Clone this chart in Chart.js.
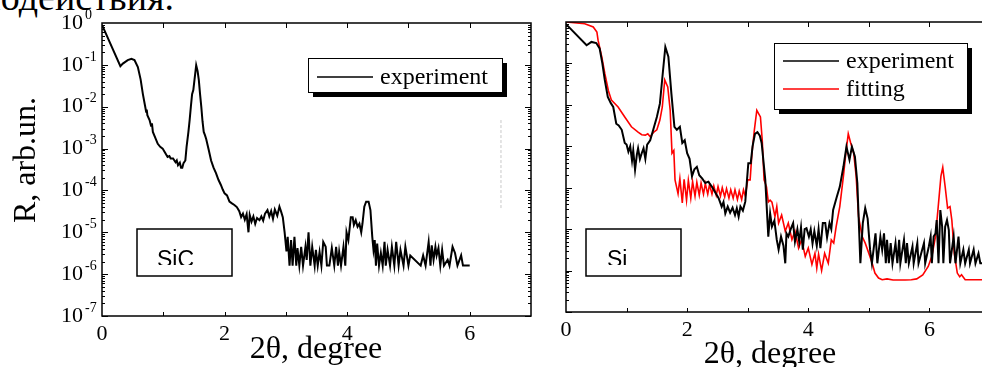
<!DOCTYPE html>
<html>
<head>
<meta charset="utf-8">
<script src="https://cdn.jsdelivr.net/npm/chart.js@4.4.1/dist/chart.umd.min.js"></script>
<style>
  html, body { margin: 0; padding: 0; background: #fff; overflow: hidden; width: 982px; height: 367px; }
  #wrap { position: relative; width: 982px; height: 367px; overflow: hidden; }
  #caption { position: absolute; right: 808px; top: -21px; font: 38px/36px "Liberation Serif", serif; white-space: nowrap; color: #000; }
  #left { position: absolute; left: 0; top: 0; }
  #right { position: absolute; left: 540px; top: 0; }
</style>
</head>
<body>
<div id="wrap">
  <div id="caption">взаимодействия.</div>
  <canvas id="left" width="560" height="367"></canvas>
  <canvas id="right" width="470" height="367"></canvas>
</div>
<script>
// SiC, experiment
var sicAngle = [0, 0.30, 0.34, 0.42, 0.48, 0.53, 0.585, 0.63, 0.667, 0.70, 0.72, 0.73, 0.74, 0.776, 0.80, 0.815, 0.83, 0.87, 0.91, 0.95, 0.99,
  1.03, 1.07, 1.10, 1.12, 1.16, 1.20, 1.22, 1.24, 1.27, 1.29, 1.31, 1.33, 1.36, 1.38, 1.41, 1.43, 1.45, 1.47, 1.49, 1.51, 1.537, 1.56, 1.58,
  1.60, 1.62, 1.64, 1.66, 1.68, 1.70, 1.74, 1.78, 1.82, 1.86, 1.90, 1.94, 1.97, 2.00, 2.04, 2.08, 2.12, 2.16, 2.20, 2.24, 2.27, 2.30, 2.33,
  2.36, 2.39, 2.41, 2.44, 2.47, 2.50, 2.53, 2.57, 2.60, 2.63, 2.66, 2.70, 2.73, 2.76, 2.79, 2.82, 2.86, 2.895, 2.92, 2.95, 2.98, 3.01, 3.03,
  3.06, 3.085, 3.11, 3.14, 3.17, 3.19, 3.22, 3.25, 3.28, 3.32, 3.34, 3.37, 3.40, 3.43, 3.47, 3.49, 3.52, 3.55, 3.58, 3.61, 3.65, 3.67, 3.71,
  3.75, 3.79, 3.82, 3.85, 3.87, 3.90, 3.94, 3.97, 3.99, 4.02, 4.06, 4.09, 4.11, 4.14, 4.17, 4.20, 4.23, 4.25, 4.28, 4.31, 4.35, 4.38, 4.41,
  4.43, 4.45, 4.47, 4.49, 4.52, 4.55, 4.58, 4.61, 4.63, 4.66, 4.70, 4.73, 4.77, 4.80, 4.84, 4.87, 4.92, 4.95, 5.00, 5.03, 5.20, 5.24, 5.28,
  5.33, 5.36, 5.38, 5.41, 5.44, 5.46, 5.49, 5.52, 5.55, 5.58, 5.64, 5.67, 5.72, 5.76, 5.80, 5.86, 5.89, 6.00];
var sicR = [0.9, 0.093, 0.107, 0.13, 0.14, 0.13, 0.089, 0.045, 0.020, 0.011, 0.0076, 0.0085, 0.0063, 0.0048, 0.0035, 0.0040, 0.0025, 0.0018, 0.0013, 0.0011, 0.0010,
  7.9e-4, 6.3e-4, 6.6e-4, 5.8e-4, 5.8e-4, 4.7e-4, 5.2e-4, 4.0e-4, 4.6e-4, 3.5e-4, 3.5e-4, 4.5e-4, 5.2e-4, 1.1e-3, 2.5e-3, 4.8e-3, 0.010, 0.020, 0.025, 0.045, 0.098, 0.071, 0.043,
  0.020, 0.010, 4.5e-3, 2.5e-3, 2.1e-3, 1.7e-3, 9.5e-4, 5.2e-4, 3.5e-4, 2.6e-4, 1.8e-4, 1.35e-4, 1.05e-4, 8.5e-5, 7.6e-5, 5.4e-5, 4.9e-5, 4.5e-5, 4.0e-5, 3.2e-5, 2.3e-5, 2.8e-5, 2.0e-5,
  2.7e-5, 1.0e-5, 2.6e-5, 1.8e-5, 2.4e-5, 1.6e-5, 2.2e-5, 1.95e-5, 2.4e-5, 1.9e-5, 2.8e-5, 3.4e-5, 2.4e-5, 3.2e-5, 2.1e-5, 3.5e-5, 2.5e-5, 4.1e-5, 3.2e-5, 2.3e-5, 1.0e-5, 3.5e-6, 7.8e-6,
  1.6e-6, 6.5e-6, 1.6e-6, 7.8e-6, 1.6e-6, 4.2e-6, 1.6e-6, 4.5e-6, 1.6e-6, 4.5e-6, 2.2e-6, 1.0e-5, 1.6e-6, 4.5e-6, 1.6e-6, 3.8e-6, 1.6e-6, 3.4e-6, 1.6e-6, 5.9e-6, 4.5e-6, 1.6e-6, 1.6e-6,
  4.2e-6, 1.6e-6, 4.5e-6, 1.6e-6, 3.4e-6, 1.6e-6, 4.5e-6, 1.6e-6, 1.0e-5, 6.5e-6, 2.3e-5, 2.3e-5, 1.5e-5, 1.95e-5, 1.35e-5, 1.6e-5, 1.0e-5, 1.6e-5, 4.1e-5, 5.4e-5, 5.4e-5, 3.4e-5, 7.8e-6,
  3.8e-6, 6.5e-6, 1.6e-6, 5.4e-6, 1.6e-6, 3.2e-6, 1.6e-6, 5.9e-6, 1.6e-6, 3.8e-6, 1.6e-6, 4.5e-6, 1.6e-6, 5.9e-6, 1.6e-6, 3.8e-6, 1.6e-6, 4.5e-6, 1.6e-6, 2.8e-6, 1.6e-6, 2.8e-6, 1.6e-6,
  5.9e-6, 1.6e-6, 4.9e-6, 2.2e-6, 4.5e-6, 2.8e-6, 4.2e-6, 1.6e-6, 3.8e-6, 1.6e-6, 2.2e-6, 1.6e-6, 4.5e-6, 3.2e-6, 1.6e-6, 2.8e-6, 1.6e-6, 1.6e-6];

// faint dashed mark left of the SiC frame
var markAngle = [6.51, 6.51];
var markR = [4.8e-3, 3.4e-5];

// Si, experiment
var siAngle = [0, 0.34, 0.42, 0.50, 0.555, 0.60, 0.64, 0.69, 0.74, 0.78, 0.83, 0.87, 0.92, 0.97, 1.00, 1.03, 1.06, 1.09, 1.11, 1.14, 1.17,
  1.19, 1.22, 1.25, 1.28, 1.31, 1.34, 1.39, 1.44, 1.50, 1.55, 1.60, 1.64, 1.69, 1.74, 1.79, 1.83, 1.88, 1.92, 1.96, 2.00, 2.04, 2.08, 2.12,
  2.16, 2.20, 2.25, 2.30, 2.35, 2.41, 2.46, 2.52, 2.57, 2.60, 2.63, 2.67, 2.71, 2.75, 2.79, 2.82, 2.85, 2.88, 2.92, 2.96, 3.01, 3.05, 3.08,
  3.12, 3.16, 3.20, 3.23, 3.29, 3.34, 3.37, 3.40, 3.44, 3.48, 3.51, 3.55, 3.59, 3.62, 3.64, 3.67, 3.71, 3.75, 3.78, 3.82, 3.85, 3.88, 3.91,
  3.94, 3.97, 4.01, 4.04, 4.07, 4.10, 4.14, 4.17, 4.20, 4.24, 4.28, 4.31, 4.35, 4.38, 4.41, 4.47, 4.52, 4.58, 4.63, 4.68, 4.72, 4.77, 4.81,
  4.86, 4.90, 4.94, 4.98, 5.02, 5.05, 5.11, 5.14, 5.19, 5.22, 5.25, 5.28, 5.30, 5.33, 5.36, 5.39, 5.44, 5.47, 5.50, 5.52, 5.58, 5.61, 5.63,
  5.66, 5.72, 5.74, 5.80, 5.82, 5.88, 5.91, 5.93, 5.99, 6.02, 6.04, 6.07, 6.10, 6.12, 6.15, 6.18, 6.21, 6.23, 6.26, 6.29, 6.32, 6.34, 6.40,
  6.43, 6.48, 6.51, 6.56, 6.59, 6.65, 6.67, 6.73, 6.76, 6.81, 6.84, 6.90];
var siR = [0.89, 0.275, 0.33, 0.31, 0.23, 0.10, 0.040, 0.0155, 0.011, 0.0089, 0.0035, 0.0032, 0.0025, 0.0012, 0.0011, 7.4e-4, 1.0e-3, 4.5e-4, 7.9e-4, 2.7e-4, 6.3e-4,
  8.9e-4, 4.9e-4, 6.8e-4, 8.9e-4, 5.0e-4, 1.1e-3, 1.4e-3, 2.5e-3, 5.1e-3, 0.0107, 0.063, 0.25, 0.145, 0.0186, 2.95e-3, 2.5e-3, 2.95e-3, 1.2e-3, 1.4e-3, 6.8e-4, 5.0e-4, 1.9e-4, 2.8e-4,
  3.2e-4, 2.0e-4, 1.65e-4, 1.3e-4, 1.4e-4, 1.05e-4, 7.9e-5, 5.6e-5, 3.5e-5, 4.5e-5, 2.4e-5, 3.5e-5, 2.5e-5, 3.3e-5, 2.2e-5, 3.2e-5, 2.0e-5, 3.5e-5, 2.8e-5, 4.6e-5, 3.9e-4, 3.9e-4, 1.0e-3,
  2.0e-3, 2.2e-3, 1.8e-3, 1.2e-3, 1.55e-4, 6.6e-6, 2.4e-5, 1.15e-5, 1.6e-5, 5.5e-6, 3.2e-6, 6.6e-6, 4.0e-6, 1.5e-6, 7.9e-6, 6.6e-6, 1.0e-5, 1.4e-5, 5.0e-6, 1.0e-5, 5.0e-6, 1.1e-5, 3.2e-6,
  1.0e-5, 1.05e-5, 6.6e-6, 1.0e-5, 4.5e-6, 8.9e-6, 4.0e-6, 1.0e-5, 3.5e-6, 1.4e-5, 1.4e-5, 6.3e-6, 1.4e-5, 1.0e-5, 2.9e-5, 6.0e-5, 1.05e-4, 3.2e-4, 9.8e-4, 4.7e-4, 9.8e-4, 5.6e-4, 1.3e-4,
  1.5e-6, 1.4e-5, 3.2e-5, 1.8e-5, 3.2e-6, 1.5e-6, 7.9e-6, 1.5e-6, 6.6e-6, 3.2e-6, 7.9e-6, 1.5e-6, 5.5e-6, 1.5e-6, 4.6e-6, 1.5e-6, 4.6e-6, 1.5e-6, 5.5e-6, 1.5e-6, 5.5e-6, 1.5e-6, 4.6e-6,
  1.5e-6, 3.8e-6, 1.5e-6, 4.6e-6, 1.5e-6, 3.2e-6, 4.6e-6, 1.5e-6, 3.8e-6, 6.6e-6, 1.5e-6, 6.6e-6, 7.9e-6, 1.66e-5, 1.5e-6, 2.9e-5, 1.15e-5, 1.5e-6, 1.15e-5, 1.66e-5, 9.5e-6, 1.5e-6, 6.6e-6,
  1.5e-6, 6.6e-6, 1.5e-6, 3.2e-6, 1.5e-6, 3.2e-6, 1.5e-6, 3.2e-6, 1.5e-6, 2.6e-6, 1.5e-6, 1.5e-6];

// Si, fitting
var fitAngle = [0, 0.31, 0.45, 0.51, 0.53, 0.59, 0.64, 0.70, 0.75, 0.86, 0.97, 1.08, 1.19, 1.25, 1.31, 1.35, 1.39, 1.45, 1.50, 1.55, 1.59,
  1.63, 1.68, 1.72, 1.75, 1.78, 1.80, 1.85, 1.88, 1.92, 1.95, 1.99, 2.02, 2.06, 2.09, 2.13, 2.16, 2.20, 2.23, 2.27, 2.30, 2.34, 2.37, 2.41,
  2.44, 2.48, 2.51, 2.55, 2.58, 2.62, 2.65, 2.69, 2.72, 2.76, 2.79, 2.83, 2.86, 2.90, 2.93, 2.96, 3.00, 3.04, 3.07, 3.11, 3.15, 3.21, 3.24,
  3.27, 3.31, 3.34, 3.37, 3.40, 3.45, 3.48, 3.51, 3.56, 3.62, 3.67, 3.73, 3.78, 3.84, 3.89, 3.95, 4.00, 4.06, 4.11, 4.14, 4.17, 4.22, 4.27,
  4.33, 4.38, 4.42, 4.46, 4.52, 4.58, 4.62, 4.66, 4.70, 4.75, 4.79, 4.83, 4.89, 4.94, 5.00, 5.05, 5.10, 5.16, 5.22, 5.30, 5.40, 5.50, 5.60,
  5.70, 5.79, 5.89, 5.98, 6.04, 6.10, 6.15, 6.19, 6.22, 6.26, 6.30, 6.34, 6.37, 6.41, 6.46, 6.50, 6.53, 6.59, 6.90];
var fitR = [1.0, 0.91, 0.76, 0.575, 0.36, 0.145, 0.058, 0.022, 0.013, 8.9e-3, 5.1e-3, 2.95e-3, 2.2e-3, 1.9e-3, 1.86e-3, 2.0e-3, 1.7e-3, 2.2e-3, 2.5e-3, 4.3e-3, 8.9e-3,
  0.040, 0.027, 7.4e-3, 6.8e-4, 7.9e-4, 1.55e-4, 7.2e-5, 1.66e-4, 4.3e-5, 1.6e-4, 5.0e-5, 1.5e-4, 5.6e-5, 1.4e-4, 6.3e-5, 1.35e-4, 6.6e-5, 1.3e-4, 7.0e-5, 1.26e-4, 7.0e-5, 1.2e-4, 7.0e-5,
  1.1e-4, 6.6e-5, 1.07e-4, 6.3e-5, 1.0e-4, 6.0e-5, 9.5e-5, 5.6e-5, 8.9e-5, 5.6e-5, 8.9e-5, 5.2e-5, 8.3e-5, 5.2e-5, 8.9e-5, 6.3e-5, 1.55e-4, 1.55e-4, 6.8e-4, 2.5e-3, 7.4e-3, 5.1e-3, 1.4e-3,
  1.55e-4, 1.05e-4, 4.5e-5, 5.0e-5, 4.5e-5, 2.0e-5, 3.5e-5, 1.4e-5, 2.2e-5, 8.9e-6, 1.4e-5, 5.6e-6, 8.9e-6, 3.5e-6, 5.6e-6, 2.2e-6, 3.5e-6, 1.4e-6, 2.6e-6, 1.15e-6, 2.5e-6, 1.0e-6, 2.6e-6,
  1.5e-6, 5.5e-6, 4.6e-6, 1.15e-5, 3.5e-5, 1.9e-4, 6.8e-4, 2.0e-3, 1.2e-3, 6.8e-4, 1.9e-4, 2.0e-5, 6.6e-6, 4.6e-6, 2.6e-6, 1.6e-6, 8.7e-7, 6.6e-7, 6.0e-7, 6.3e-7, 5.9e-7, 5.9e-7, 5.9e-7,
  6.0e-7, 6.3e-7, 7.9e-7, 1.26e-6, 2.2e-6, 6.6e-6, 4.2e-5, 1.9e-4, 3.1e-4, 1.05e-4, 3.2e-5, 3.5e-5, 1.66e-5, 2.6e-6, 8.7e-7, 7.1e-7, 7.9e-7, 6.0e-7, 6.0e-7];

var xTickLabels = [0, 2, 4, 6];
var yExponents = [0, -1, -2, -3, -4, -5, -6, -7];

function points(xs, ys) {
  return xs.map(function(x, i) { return { x: x, y: ys[i] }; });
}

var framePlugin = {
  id: 'frame',
  afterDatasetsDraw: function(chart, args, o) {
    var ctx = chart.ctx, a = chart.chartArea;
    var xs = chart.scales.x, ys = chart.scales.y;
    ctx.save();
    ctx.strokeStyle = '#000';
    ctx.lineWidth = 1.5;
    ctx.strokeRect(a.left, a.top, a.right - a.left, a.bottom - a.top);

    // inward ticks
    ctx.lineWidth = 1;
    ctx.beginPath();
    for (var v = 1; v < 7; v++) {
      var px = Math.round(xs.getPixelForValue(v)) + 0.5;
      ctx.moveTo(px, a.bottom); ctx.lineTo(px, a.bottom - 4);
      ctx.moveTo(px, a.top); ctx.lineTo(px, a.top + 5);
    }
    for (var e = -7; e < 0; e++) {
      for (var m = 1; m < 10; m++) {
        var py = Math.round(ys.getPixelForValue(m * Math.pow(10, e))) + 0.5;
        var len = m === 1 ? 6 : 3;
        ctx.moveTo(a.left, py); ctx.lineTo(a.left + len, py);
        ctx.moveTo(a.right, py); ctx.lineTo(a.right - len, py);
      }
    }
    ctx.stroke();

    ctx.fillStyle = '#000';
    ctx.font = '22px "Liberation Serif"';
    ctx.textAlign = 'center';
    ctx.textBaseline = 'middle';
    xTickLabels.forEach(function(t) {
      ctx.fillText(String(t), xs.getPixelForValue(t), a.bottom + 18);
    });

    if (o.yLabels) {
      yExponents.forEach(function(p) {
        var py = ys.getPixelForValue(Math.pow(10, p));
        ctx.font = '22px "Liberation Serif"';
        ctx.textAlign = 'right';
        ctx.fillText('10', a.left - 19, py);
        ctx.font = '14px "Liberation Serif"';
        ctx.textAlign = 'left';
        ctx.fillText(String(p), a.left - 17, py - 8);
      });
    }

    // axis titles
    ctx.font = '32px "Liberation Serif"';
    ctx.textBaseline = 'alphabetic';
    ctx.textAlign = 'center';
    ctx.fillText(o.xTitle.text, o.xTitle.x, o.xTitle.y);
    if (o.yTitle) {
      ctx.save();
      ctx.translate(o.yTitle.x, o.yTitle.y);
      ctx.rotate(-Math.PI / 2);
      ctx.textBaseline = 'middle';
      ctx.fillText(o.yTitle.text, 0, 0);
      ctx.restore();
    }
    ctx.restore();
  }
};

var legendPlugin = {
  id: 'legendBox',
  afterDraw: function(chart, args, o) {
    var ctx = chart.ctx;
    var l = o.box[0], t = o.box[1], w = o.box[2], h = o.box[3];
    ctx.save();
    ctx.fillStyle = '#000';
    ctx.fillRect(l + 5, t + 5, w, h);
    ctx.fillStyle = '#fff';
    ctx.fillRect(l, t, w, h);
    ctx.strokeStyle = '#000';
    ctx.lineWidth = 1;
    ctx.strokeRect(l + 0.5, t + 0.5, w, h);
    ctx.font = '24px "Liberation Serif"';
    ctx.textAlign = 'left';
    ctx.textBaseline = 'alphabetic';
    chart.data.datasets.filter(function(d) { return d.label; }).forEach(function(d, i) {
      var y = t + o.firstRow + i * o.rowGap;
      ctx.strokeStyle = d.borderColor;
      ctx.lineWidth = 1.5;
      ctx.beginPath();
      ctx.moveTo(l + 9, y); ctx.lineTo(l + 65, y);
      ctx.stroke();
      ctx.fillStyle = '#000';
      ctx.fillText(d.label, l + 72, y + 7);
    });
    ctx.restore();
  }
};

var sampleBoxPlugin = {
  id: 'sampleBox',
  afterDraw: function(chart, args, o) {
    var ctx = chart.ctx;
    var l = o.box[0], t = o.box[1], w = o.box[2], h = o.box[3];
    ctx.save();
    ctx.strokeStyle = '#000';
    ctx.lineWidth = 1.5;
    ctx.strokeRect(l, t, w, h);
    ctx.beginPath();
    ctx.rect(l, t, w, o.clipY - t);
    ctx.clip();
    ctx.fillStyle = '#000';
    ctx.font = '23px "Liberation Sans"';
    ctx.textAlign = 'left';
    ctx.textBaseline = 'alphabetic';
    ctx.fillText(o.text, o.textX, o.textY);
    ctx.restore();
  }
};

function makeChart(id, datasets, padding, opts) {
  return new Chart(document.getElementById(id).getContext('2d'), {
    type: 'line',
    data: { datasets: datasets },
    options: {
      responsive: false,
      animation: false,
      layout: { padding: padding },
      elements: { point: { radius: 0 }, line: { tension: 0 } },
      scales: {
        x: { type: 'linear', min: 0, max: 7, display: false },
        y: { type: 'logarithmic', min: 1e-7, max: 1, display: false }
      },
      plugins: {
        legend: { display: false },
        tooltip: { enabled: false },
        frame: opts.frame,
        legendBox: opts.legend,
        sampleBox: opts.sample
      }
    },
    plugins: [framePlugin, legendPlugin, sampleBoxPlugin]
  });
}

makeChart('left', [
  { label: 'experiment', data: points(sicAngle, sicR), borderColor: '#000', borderWidth: 2 },
  { label: '', data: points(markAngle, markR), borderColor: '#c8c8c8', borderWidth: 1, borderDash: [3, 2] }
], { left: 102, top: 23, right: 29, bottom: 51 }, {
  frame: { yLabels: true, xTitle: { text: '2θ, degree', x: 316, y: 358 }, yTitle: { text: 'R, arb.un.', x: 27, y: 160 } },
  legend: { box: [308, 58, 194, 34], firstRow: 19, rowGap: 28 },
  sample: { box: [137, 229, 95, 47], text: 'SiC', textX: 157, textY: 267, clipY: 265 }
});

makeChart('right', [
  { label: 'experiment', data: points(siAngle, siR), borderColor: '#000', borderWidth: 2 },
  { label: 'fitting', data: points(fitAngle, fitR), borderColor: '#ff0000', borderWidth: 1.6 }
], { left: 26, top: 22, right: 20, bottom: 55 }, {
  frame: { yLabels: false, xTitle: { text: '2θ, degree', x: 230, y: 363 } },
  legend: { box: [234, 43, 193, 66], firstRow: 18, rowGap: 28 },
  sample: { box: [46, 229, 95, 47], text: 'Si', textX: 67, textY: 267, clipY: 265 }
});
</script>
</body>
</html>
